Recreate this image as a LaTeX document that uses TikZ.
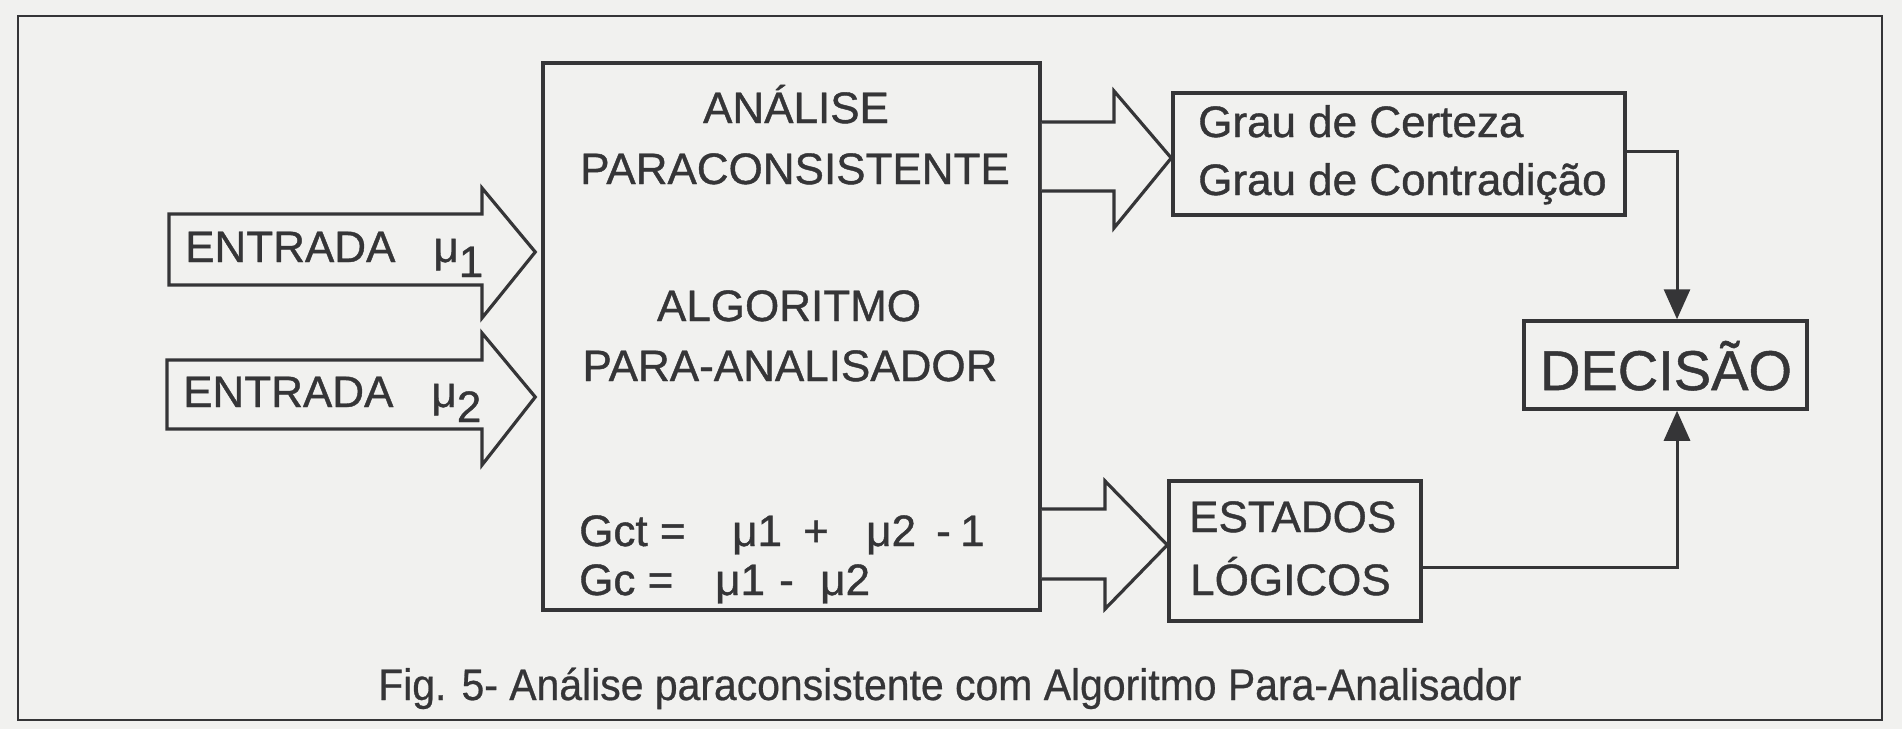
\documentclass[tikz,border=0pt]{standalone}
\usepackage{fontspec}
\setmainfont{Liberation Sans}
\newfontfamily\lblfont[FakeBold=0.9]{Liberation Sans}
\newfontfamily\capfont[FakeStretch=0.93,FakeBold=0.6]{Liberation Sans}
\usetikzlibrary{arrows.meta,calc}
\definecolor{ink}{HTML}{353537}
\definecolor{paper}{HTML}{F1F1EF}
\begin{document}
\begin{tikzpicture}[x=1pt,y=-1pt,
  box/.style={draw=ink,line width=3.5pt,inner sep=0pt},
  blk/.style={draw=ink,line width=3.2pt,line join=miter,fill=paper},
  lbl/.style={text=ink,font=\lblfont\fontsize{44}{52}\selectfont,inner sep=0pt},
  frm/.style={lbl,anchor=base west},
  conn/.style={draw=ink,line width=3pt,-{Triangle[length=30pt,width=26pt]}},
]
\fill[paper] (0,0) rectangle (1902,729);
\useasboundingbox (0,0) rectangle (1902,729);
\draw[ink,line width=2.2pt] (18,16) rectangle (1882,720);

% boxes
\node[box,minimum width=497pt,minimum height=547pt] (main) at (791.5,336.5) {};
\node[box,minimum width=452pt,minimum height=122pt] (grau) at (1399,154) {};
\node[box,minimum width=283pt,minimum height=88pt] (dec) at (1665.5,365) {};
\node[box,minimum width=252pt,minimum height=140pt] (est) at (1295,551) {};

% main box texts
\node[lbl,anchor=base] (t1) at (796,123) {ANÁLISE};
\node[lbl,anchor=base] (t2) at (795,184) {PARACONSISTENTE};
\node[lbl,anchor=base] (t3) at (789,321) {ALGORITMO};
\node[lbl,anchor=base] (t4) at (790,381) {PARA-ANALISADOR};
% formula lines
\node[frm] (f1a) at (579,546) {Gct =};
\node[frm] (f1b) at (732,546) {μ1};
\node[frm] (f1c) at (803,546) {+};
\node[frm] (f1d) at (866,546) {μ2};
\node[frm] (f1e) at (936,546) {-};
\node[frm] (f1f) at (960,546) {1};
\node[frm] (f2a) at (579,595) {Gc =};
\node[frm] (f2b) at (715,595) {μ1};
\node[frm] (f2c) at (779,595) {-};
\node[frm] (f2d) at (820,595) {μ2};

% other box texts
\node[lbl,anchor=base west] (g1) at (1198,137) {Grau de Certeza};
\node[lbl,anchor=base west] (g2) at (1198,195) {Grau de Contradição};
\node[lbl,anchor=base,font=\lblfont\fontsize{56}{64}\selectfont] (d1) at (1666,390) {DECISÃO};
\node[lbl,anchor=base west] (e1) at (1189,532) {ESTADOS};
\node[lbl,anchor=base west] (e2) at (1190,595) {LÓGICOS};

% input block arrows
\draw[blk] (169,214) -- (482,214) -- (482,188) -- ($(main.west|-0,252)+(-6,0)$) -- (482,318) -- (482,285) -- (169,285) -- cycle;
\node[lbl,anchor=base west] (in1) at (185,262) {ENTRADA\hspace{38pt}μ\raisebox{-15pt}{1}};
\draw[blk] (167,360) -- (482,360) -- (482,333) -- ($(main.west|-0,397)+(-6,0)$) -- (482,465) -- (482,429) -- (167,429) -- cycle;
\node[lbl,anchor=base west] (in2) at (183,407) {ENTRADA\hspace{38pt}μ\raisebox{-15pt}{2}};

% output block arrows
\draw[blk] (main.east|-0,122) -- (1114,122) -- (1114,91) -- (grau.west|-0,158) -- (1114,228) -- (1114,191) -- (main.east|-0,191);
\draw[blk] (main.east|-0,509) -- (1105,509) -- (1105,481) -- (est.west|-0,545) -- (1105,609) -- (1105,579) -- (main.east|-0,579);

% connectors to decision
\coordinate (c1) at (1677,151);
\coordinate (c2) at (1677,567);
\draw[conn] (grau.east|-c1) -- (c1) -- (c1|-dec.north);
\draw[conn] (est.east|-c2) -- (c2) -- (c2|-dec.south);

% caption
\node[text=ink,inner sep=0pt,anchor=base west,font=\capfont\fontsize{44}{52}\selectfont] (cap) at (378,700) {Fig. 5- Análise paraconsistente com Algoritmo Para-Analisador};
\end{tikzpicture}
\end{document}
